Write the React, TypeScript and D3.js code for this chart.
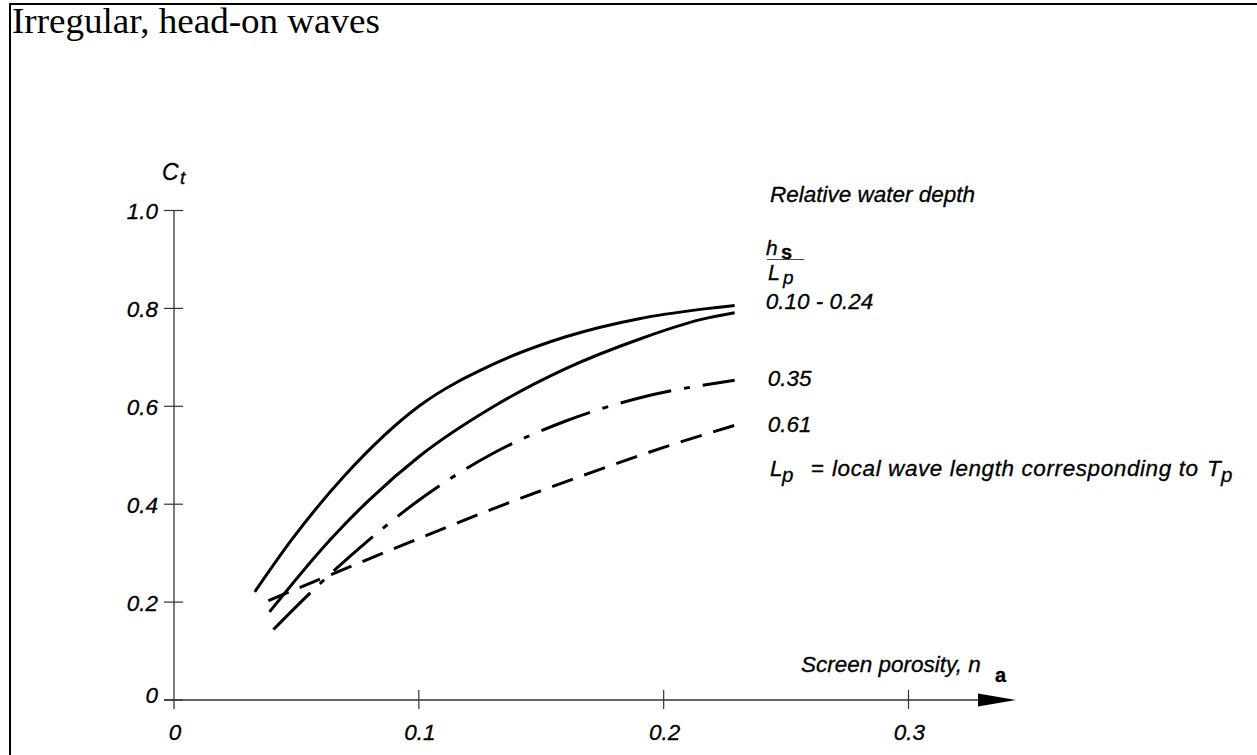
import React from 'react';
import * as d3 from 'd3';

// ---- data ----
const xTicks = [0, 0.1, 0.2, 0.3];
const xTickLabels = ['0', '0.1', '0.2', '0.3'];
const yTicks = [0, 0.2, 0.4, 0.6, 0.8, 1.0];
const yTickLabels = ['0', '0.2', '0.4', '0.6', '0.8', '1.0'];

// h_s/L_p = 0.10 - 0.24 (upper solid)
const nUpper = [0.033, 0.048, 0.07, 0.10, 0.13, 0.16, 0.19, 0.215, 0.229];
const ctUpper = [0.221, 0.327, 0.46, 0.60, 0.685, 0.742, 0.779, 0.798, 0.806];
// h_s/L_p = 0.10 - 0.24 (lower solid)
const nLower = [0.039, 0.0637, 0.08, 0.10, 0.13, 0.16, 0.19, 0.215, 0.229];
const ctLower = [0.180, 0.327, 0.41, 0.497, 0.598, 0.677, 0.737, 0.777, 0.791];
// h_s/L_p = 0.35 (dash-dot)
const n035 = [0.0406, 0.0559, 0.0787, 0.10, 0.13, 0.16, 0.19, 0.229];
const ct035 = [0.144, 0.220, 0.323, 0.408, 0.503, 0.570, 0.617, 0.653];
// h_s/L_p = 0.61 (dashed)
const n061 = [0.0385, 0.0883, 0.13, 0.17, 0.20, 0.229];
const ct061 = [0.203, 0.306, 0.39, 0.464, 0.516, 0.561];

const seriesLabels = ['0.10 - 0.24', '0.35', '0.61'];

const FONT = '"Liberation Sans", Arial, Helvetica, sans-serif';
const FS = 22.5;

export default function App() {
  const x = d3.scaleLinear().domain([0, 0.3]).range([174, 908.5]);
  const y = d3.scaleLinear().domain([0, 1]).range([700, 210.5]);

  const line = d3
    .line<[number, number]>()
    .x((d) => x(d[0]))
    .y((d) => y(d[1]))
    .curve(d3.curveMonotoneX);

  const zip = (a: number[], b: number[]) => a.map((v, i) => [v, b[i]] as [number, number]);

  const curves = [
    { d: line(zip(nUpper, ctUpper)), dash: undefined },
    { d: line(zip(nLower, ctLower)), dash: undefined },
    { d: line(zip(n035, ct035)), dash: '52 13 6 13' },
    { d: line(zip(n061, ct061)), dash: '22 12' },
  ];

  const x0 = x(0);
  const y0 = y(0);
  const xEnd = 1016;
  const txt = {
    fontFamily: FONT,
    fontStyle: 'italic',
    fill: '#000',
    stroke: '#000',
    strokeWidth: 0.3,
  } as const;
  const endX = x(nUpper[nUpper.length - 1]);

  return (
    <svg
      width={1257}
      height={755}
      style={{ position: 'absolute', left: 0, top: 0, background: '#fff' }}
    >
      {/* frame */}
      <line x1={9} y1={4} x2={1257} y2={4} stroke="#000" strokeWidth={2} />
      <line x1={10} y1={3} x2={10} y2={755} stroke="#000" strokeWidth={2} />

      {/* title */}
      <text
        x={12}
        y={33}
        fontFamily='"Liberation Serif", "Times New Roman", serif'
        fontSize={35}
        textLength={368}
        lengthAdjust="spacingAndGlyphs"
      >
        Irregular, head-on waves
      </text>

      {/* axes */}
      <line x1={x0} y1={y(1)} x2={x0} y2={y0 + 9} stroke="#333" strokeWidth={1.3} />
      <line x1={x0 - 10} y1={y0} x2={xEnd - 30} y2={y0} stroke="#333" strokeWidth={1.3} />
      <path d={`M${xEnd - 38},${y0 - 6.5} L${xEnd},${y0} L${xEnd - 38},${y0 + 6.5} Z`} fill="#000" />

      {yTicks.map((t, i) => (
        <g key={'y' + i}>
          <line x1={x0 - 10} x2={x0 + 9} y1={y(t)} y2={y(t)} stroke="#333" strokeWidth={1.2} />
          <text
            {...txt}
            x={158}
            y={y(t) + (t === 0 ? 2.5 : 8.5)}
            fontSize={FS}
            textAnchor="end"
          >
            {yTickLabels[i]}
          </text>
        </g>
      ))}
      {xTicks.map((t, i) => (
        <g key={'x' + i}>
          {t > 0 && (
            <line x1={x(t)} x2={x(t)} y1={y0 - 10} y2={y0 + 9} stroke="#333" strokeWidth={1.2} />
          )}
          <text {...txt} x={x(t) + 1} y={740} fontSize={FS} textAnchor="middle">
            {xTickLabels[i]}
          </text>
        </g>
      ))}

      {/* axis titles */}
      <text {...txt} x={162} y={180} fontSize={23}>C</text>
      <text {...txt} x={180} y={184} fontSize={19}>t</text>

      <text {...txt} x={801} y={672} fontSize={FS}>Screen porosity, n</text>
      <text {...txt} x={995} y={682} fontSize={20} fontStyle="normal" fontWeight="bold">a</text>

      {/* curves */}
      {curves.map((c, i) => (
        <path
          key={'c' + i}
          d={c.d || ''}
          fill="none"
          stroke="#000"
          strokeWidth={3}
          strokeDasharray={c.dash}
        />
      ))}

      {/* legend text */}
      <text {...txt} x={770} y={202} fontSize={FS}>Relative water depth</text>
      <text {...txt} x={766} y={255} fontSize={21}>h</text>
      <text {...txt} x={781} y={259} fontSize={20} fontStyle="normal" fontWeight="bold">s</text>
      <line x1={767} x2={804} y1={259.5} y2={259.5} stroke="#444" strokeWidth={1.2} />
      <text {...txt} x={768} y={280} fontSize={21.5}>L</text>
      <text {...txt} x={783} y={284} fontSize={19}>p</text>

      <text {...txt} x={endX + 31} y={309} fontSize={FS}>{seriesLabels[0]}</text>
      <text {...txt} x={endX + 33} y={386} fontSize={FS}>{seriesLabels[1]}</text>
      <text {...txt} x={endX + 33} y={432} fontSize={FS}>{seriesLabels[2]}</text>

      <text {...txt} x={770} y={476} fontSize={FS}>L</text>
      <text {...txt} x={782} y={482} fontSize={20.5}>p</text>
      <text {...txt} x={811} y={476} fontSize={FS} fontStyle="normal">=</text>
      <text {...txt} x={832} y={476} fontSize={FS} textLength={366} lengthAdjust="spacing">
        local wave length corresponding to
      </text>
      <text {...txt} x={1207} y={476} fontSize={FS}>T</text>
      <text {...txt} x={1221} y={482} fontSize={20.5}>p</text>
    </svg>
  );
}
